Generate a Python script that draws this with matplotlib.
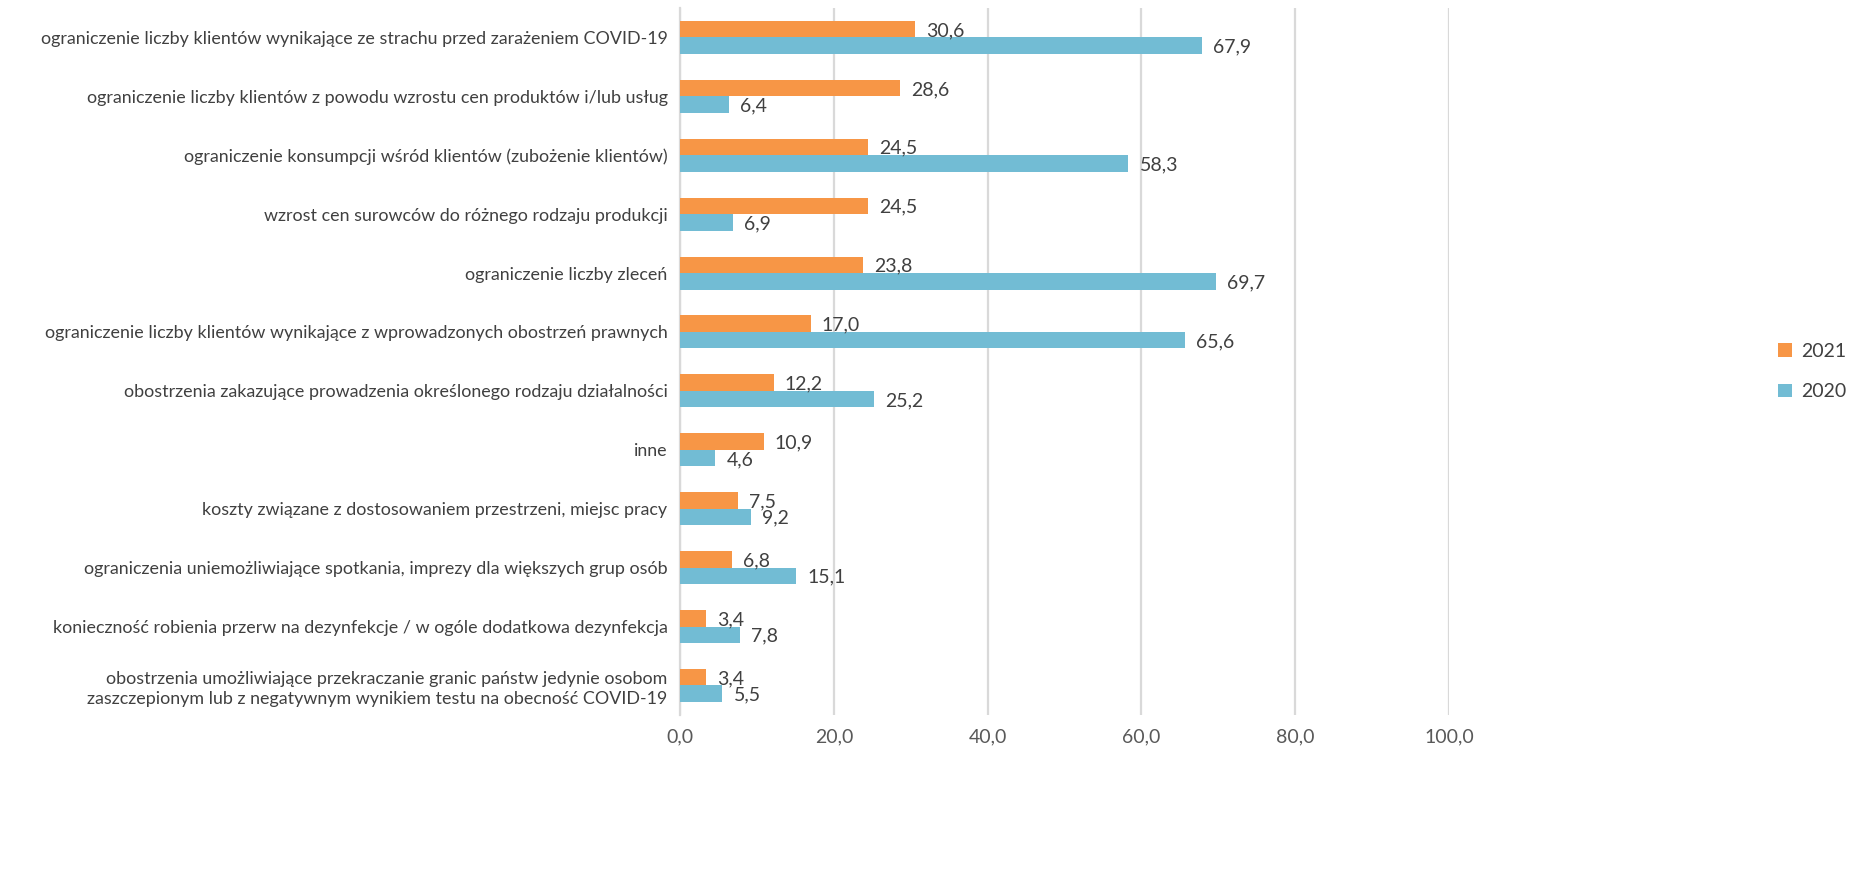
import matplotlib
matplotlib.use('Agg')
import matplotlib.pyplot as plt
import numpy as np

plt.rcParams['font.family'] = ['Lato', 'DejaVu Sans']

categories = [
    'ograniczenie liczby klientów wynikające ze strachu przed zarażeniem COVID-19',
    'ograniczenie liczby klientów z powodu wzrostu cen produktów i/lub usług',
    'ograniczenie konsumpcji wśród klientów (zubożenie klientów)',
    'wzrost cen surowców do różnego rodzaju produkcji',
    'ograniczenie liczby zleceń',
    'ograniczenie liczby klientów wynikające z wprowadzonych obostrzeń prawnych',
    'obostrzenia zakazujące prowadzenia określonego rodzaju działalności',
    'inne',
    'koszty związane z dostosowaniem przestrzeni, miejsc pracy',
    'ograniczenia uniemożliwiające spotkania, imprezy dla większych grup osób',
    'konieczność robienia przerw na dezynfekcje / w ogóle dodatkowa dezynfekcja',
    'obostrzenia umożliwiające przekraczanie granic państw jedynie osobom\n'
    'zaszczepionym lub z negatywnym wynikiem testu na obecność COVID-19',
]
v2021 = [30.6, 28.6, 24.5, 24.5, 23.8, 17.0, 12.2, 10.9, 7.5, 6.8, 3.4, 3.4]
v2020 = [67.9, 6.4, 58.3, 6.9, 69.7, 65.6, 25.2, 4.6, 9.2, 15.1, 7.8, 5.5]

c2021 = '#F79646'
c2020 = '#72BCD4'
txt = '#404040'

fig = plt.figure(figsize=(18.59, 8.74), dpi=100)
ax = fig.add_axes([0.3658, 0.182, 0.4137, 0.809])

y = np.arange(len(categories))
h = 0.28
b1 = ax.barh(y - h / 2, v2021, height=h, color=c2021, label='2021', zorder=3)
b2 = ax.barh(y + h / 2, v2020, height=h, color=c2020, label='2020', zorder=3)

for bars, vals in ((b1, v2021), (b2, v2020)):
    for bar, v in zip(bars, vals):
        ax.annotate(('%.1f' % v).replace('.', ','),
                    (bar.get_width(), bar.get_y() + bar.get_height() / 2),
                    xytext=(8, -1), textcoords='offset points',
                    ha='left', va='center', fontsize=14, color=txt)

ax.set_ylim(len(categories) - 0.5, -0.5)
ax.set_xlim(0, 100)
ax.set_xticks(np.arange(0, 101, 20))
ax.set_xticklabels([('%.1f' % t).replace('.', ',') for t in np.arange(0, 101, 20)],
                   fontsize=14, color='#595959')
ax.set_yticks(y)
ax.set_yticklabels(categories, fontsize=12.9, color=txt, ha='right', linespacing=1.3)
ax.tick_params(axis='both', length=0, pad=10)
ax.tick_params(axis='y', pad=9)
ax.grid(axis='x', color='#D9D9D9', lw=1.6, zorder=0)
for s in ('top', 'right', 'bottom'):
    ax.spines[s].set_visible(False)
ax.spines['left'].set_color('#D9D9D9')
ax.spines['left'].set_linewidth(1.6)

handles, labels = ax.get_legend_handles_labels()
fig.legend(handles, labels, loc='center left', bbox_to_anchor=(0.947, 0.575),
           frameon=False, fontsize=14, handlelength=0.7, handleheight=0.7,
           labelspacing=1.2, handletextpad=0.5, labelcolor=txt)

fig.savefig('out.png', dpi=100)
